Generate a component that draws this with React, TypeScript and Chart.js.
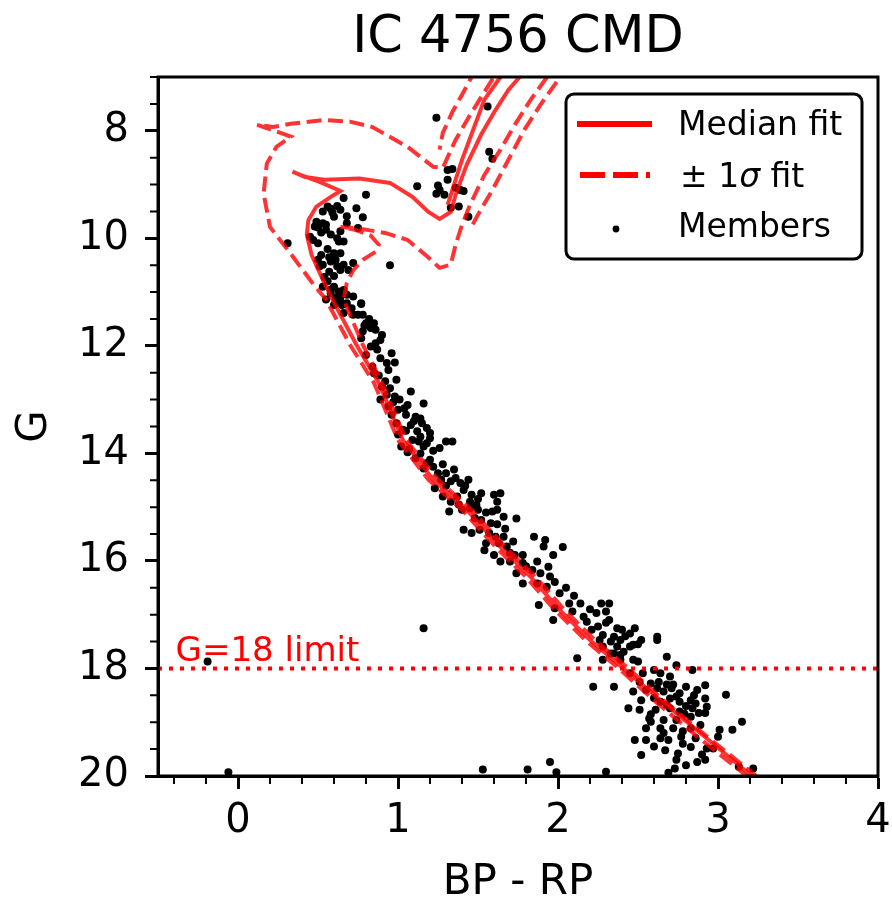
import React, { useEffect, useRef } from "react";
import { Chart, registerables } from "chart.js";

Chart.register(...registerables);

const FAMILY = "'DejaVu Sans', 'Liberation Sans', sans-serif";

// ---- text ----
const titleText = "IC 4756 CMD";
const xAxisTitle = "BP - RP";
const yAxisTitle = "G";
const limitLabel = "G=18 limit";
const limitLabelAt = [-0.39, 17.86];

// ---- axes ----
const xMajorTicks = [0, 1, 2, 3, 4];
const xMinorTicks = [-0.4, -0.2, 0.2, 0.4, 0.6, 0.8, 1.2, 1.4, 1.6, 1.8, 2.2, 2.4, 2.6, 2.8, 3.2, 3.4, 3.6, 3.8];
const yMajorTicks = [8, 10, 12, 14, 16, 18, 20];
const yMinorTicks = [7, 7.5, 8.5, 9, 9.5, 10.5, 11, 11.5, 12.5, 13, 13.5, 14.5, 15, 15.5, 16.5, 17, 17.5, 18.5, 19, 19.5];

// ---- isochrone fits (BP-RP, G) ----
const medianBP = [3.33, 3.21, 2.89, 2.64, 2.41, 2.2, 2.01, 1.83, 1.64, 1.43, 1.22, 1.03, 0.88, 0.74, 0.59, 0.53, 0.46, 0.43, 0.44, 0.49, 0.58, 0.64, 0.51, 0.39, 0.34, 0.42, 0.54, 0.76, 0.95, 1.09, 1.19, 1.26, 1.33, 1.36, 1.43, 1.52, 1.61, 1.69, 1.76, 1.86, 1.73, 1.64, 1.54, 1.47, 1.4, 1.34, 1.31];
const medianG = [20.26, 20.0, 19.2, 18.59, 18.0, 17.47, 16.91, 16.3, 15.74, 15.05, 14.49, 13.75, 12.69, 11.98, 11.14, 10.77, 10.31, 9.93, 9.66, 9.41, 9.23, 9.12, 8.95, 8.82, 8.76, 8.86, 8.91, 8.89, 8.97, 9.23, 9.51, 9.64, 9.51, 9.19, 8.63, 8.07, 7.61, 7.24, 7.0, 6.62, 6.59, 7.0, 7.42, 7.98, 8.54, 9.1, 9.38];

const upperBP = [3.3, 3.18, 2.86, 2.61, 2.38, 2.17, 1.98, 1.8, 1.61, 1.4, 1.19, 1.0, 0.85, 0.7, 0.55, 0.47, 0.33, 0.2, 0.16, 0.18, 0.24, 0.33, 0.21, 0.12, 0.22, 0.33, 0.53, 0.7, 0.84, 1.06, 1.22, 1.28, 1.36, 1.44, 1.51, 1.58, 1.64, 1.54, 1.46, 1.4, 1.34, 1.28, 1.26];
const upperG = [20.26, 20.0, 19.24, 18.62, 18.0, 17.47, 16.91, 16.3, 15.74, 15.05, 14.49, 13.75, 12.69, 11.98, 11.14, 10.85, 10.29, 9.79, 9.17, 8.61, 8.3, 8.11, 7.98, 7.89, 7.93, 7.87, 7.8, 7.83, 7.93, 8.3, 8.67, 8.69, 8.17, 7.76, 7.42, 7.09, 6.81, 6.59, 7.0, 7.33, 7.65, 8.04, 8.35];

const lowerBP = [3.36, 3.24, 2.92, 2.67, 2.44, 2.23, 2.04, 1.86, 1.67, 1.46, 1.25, 1.05, 0.9, 0.78, 0.66, 0.68, 0.72, 0.78, 0.86, 0.88, 0.83, 0.73, 0.64, 0.76, 0.92, 1.06, 1.18, 1.26, 1.33, 1.36, 1.4, 1.45, 1.54, 1.64, 1.73, 1.83, 1.92, 2.01, 2.11, 1.98, 1.89, 1.79, 1.69, 1.59, 1.5, 1.45];
const lowerG = [20.26, 20.0, 19.24, 18.62, 18.0, 17.47, 16.91, 16.3, 15.74, 15.05, 14.49, 13.75, 12.69, 11.98, 11.14, 10.83, 10.59, 10.4, 10.25, 10.12, 9.95, 9.84, 9.79, 9.82, 9.9, 10.03, 10.33, 10.55, 10.49, 10.12, 9.75, 9.38, 8.82, 8.35, 7.89, 7.42, 7.05, 6.68, 6.59, 7.14, 7.52, 7.98, 8.54, 9.1, 9.56, 9.84];

const limitBP = [-0.5, 4];
const limitG = [18, 18];

// ---- cluster members [BP-RP, G] ----
const membersGiants = [
  [1.24, 7.76], [1.56, 7.55], [1.57, 8.39], [1.59, 8.52], [1.12, 9.03], [1.31, 8.73], [1.34, 8.71],
  [1.31, 8.91], [1.25, 9.02], [1.26, 9.1], [1.24, 9.17], [1.29, 9.19], [1.36, 9.06], [1.39, 9.1],
  [1.41, 9.12], [1.33, 9.43], [1.38, 9.41], [1.44, 9.6], [0.31, 10.09], [0.95, 10.5],
];
const membersTurnoff = [
  [0.66, 9.25], [0.8, 9.19], [0.74, 9.44], [0.78, 9.61], [0.56, 9.41], [0.62, 9.4], [0.59, 9.52],
  [0.64, 9.47], [0.53, 9.5], [0.68, 9.59], [0.49, 9.69], [0.53, 9.72], [0.55, 9.84], [0.52, 9.89],
  [0.48, 9.78], [0.64, 9.87], [0.58, 9.93], [0.75, 9.81], [0.68, 9.72], [0.45, 9.97], [0.47, 10.03],
  [0.5, 10.09], [0.63, 10.06], [0.66, 10.06], [0.56, 10.2], [0.6, 10.28], [0.64, 10.28], [0.52, 10.31],
  [0.5, 10.4], [0.53, 10.49], [0.58, 10.43], [0.62, 10.52], [0.66, 10.49], [0.69, 10.59], [0.72, 10.46],
  [0.64, 10.59], [0.51, 10.52], [0.54, 10.72], [0.56, 10.8], [0.53, 10.9], [0.6, 10.9], [0.63, 10.99],
  [0.66, 10.96], [0.58, 11.02], [0.61, 11.11], [0.64, 11.08], [0.68, 11.05], [0.55, 11.14], [0.72, 11.08],
  [0.77, 11.21], [0.6, 11.24], [0.65, 11.24], [0.58, 9.45], [0.6, 9.6], [0.5, 9.8], [0.55, 9.75],
  [0.62, 10.0], [0.57, 10.35], [0.61, 10.4], [0.58, 10.95], [0.63, 11.15], [0.57, 10.62], [0.6, 10.7],
];
const membersUpperMS = [
  [0.64, 11.18], [0.68, 11.21], [0.77, 11.22], [0.71, 11.3], [0.72, 11.42], [0.75, 11.42], [0.78, 11.42],
  [0.66, 11.39], [0.8, 11.58], [0.85, 11.58], [0.83, 11.67], [0.86, 11.7], [0.78, 11.73], [0.9, 11.8],
  [0.77, 11.86], [0.89, 11.89], [0.86, 11.95], [0.83, 12.01], [0.87, 12.07], [0.8, 12.17], [0.96, 12.14],
  [0.89, 12.23], [0.93, 12.32], [0.98, 12.31], [0.84, 12.39], [0.85, 12.51], [0.92, 12.66], [0.99, 12.63],
  [0.9, 12.76], [0.95, 12.79], [1.08, 12.85], [0.93, 12.91], [0.98, 12.94], [0.89, 13.0], [1.01, 13.0],
  [1.16, 13.07], [0.94, 13.13], [1.0, 13.19], [1.04, 13.16], [0.96, 13.28], [1.05, 13.28], [1.11, 13.32],
  [1.14, 13.35], [0.99, 13.44], [1.08, 13.47], [1.15, 13.44], [1.18, 13.53], [1.03, 13.56], [1.12, 13.59],
  [1.2, 13.62], [1.0, 13.65], [1.14, 13.69], [1.09, 13.75], [1.18, 13.81], [1.02, 13.87], [1.3, 13.78],
  [1.34, 13.78], [1.16, 13.87], [1.26, 13.9], [0.97, 13.05], [1.06, 13.1], [1.1, 13.4], [1.05, 13.58],
  [1.13, 13.78], [1.2, 13.72], [1.07, 13.92], [1.22, 13.95], [0.82, 11.5], [0.79, 11.62], [0.94, 12.45],
  [0.88, 12.55],
];
const membersMidMS = [
  [1.11, 14.09], [1.2, 14.12], [1.22, 14.25], [1.16, 14.28], [1.25, 14.37], [1.3, 14.37], [1.36, 14.46],
  [1.27, 14.49], [1.33, 14.52], [1.39, 14.55], [1.44, 14.49], [1.41, 14.68], [1.46, 14.77], [1.37, 14.8],
  [1.52, 14.74], [1.6, 14.77], [1.64, 14.74], [1.23, 14.65], [1.28, 14.8], [1.33, 14.9], [1.45, 14.9],
  [1.49, 14.96], [1.62, 14.9], [1.45, 15.02], [1.4, 15.05], [1.5, 15.05], [1.32, 15.08], [1.59, 15.08],
  [1.62, 15.05], [1.66, 15.18], [1.74, 15.21], [1.52, 15.24], [1.58, 15.3], [1.41, 15.42], [1.46, 15.48],
  [1.51, 15.42], [1.57, 15.48], [1.61, 15.55], [1.66, 15.55], [1.72, 15.64], [1.85, 15.55], [1.92, 15.61],
  [1.55, 15.67], [1.63, 15.67], [1.68, 15.73], [1.91, 15.73], [1.54, 15.8], [1.6, 15.89], [1.73, 15.89],
  [1.78, 15.89], [1.97, 15.89], [1.64, 16.01], [1.7, 16.01], [1.78, 16.04], [1.87, 16.01], [1.94, 16.11],
  [1.84, 16.17], [1.89, 16.23], [1.95, 16.29], [1.74, 16.23], [2.03, 15.74], [1.06, 13.98], [1.14, 14.0],
  [1.18, 14.18], [1.28, 14.2], [1.35, 14.3], [1.3, 14.6], [1.42, 14.6], [1.38, 14.95], [1.5, 14.85],
  [1.55, 15.1], [1.48, 15.2], [1.62, 15.32], [1.67, 15.4], [1.7, 15.85], [1.8, 16.1],
];
const membersLowerMS = [
  [1.98, 16.39], [1.87, 16.42], [1.78, 16.42], [1.93, 16.48], [2.01, 16.6], [1.88, 16.82], [1.98, 16.88],
  [2.07, 16.79], [2.14, 16.79], [2.27, 16.79], [2.32, 16.79], [2.09, 16.94], [2.24, 16.97], [2.3, 16.94],
  [1.97, 17.1], [2.16, 17.04], [2.18, 17.13], [2.32, 17.1], [2.25, 17.22], [2.21, 17.28], [2.37, 17.25],
  [2.4, 17.28], [2.48, 17.25], [2.28, 17.38], [2.35, 17.41], [2.45, 17.35], [2.26, 17.47], [2.33, 17.5],
  [2.39, 17.47], [2.52, 17.47], [2.62, 17.41], [2.28, 17.59], [2.37, 17.59], [2.45, 17.59], [2.41, 17.69],
  [2.12, 17.81], [2.33, 17.72], [2.39, 17.84], [2.68, 17.78], [2.05, 16.5], [2.1, 16.65], [2.2, 16.9],
  [2.3, 17.15], [2.42, 17.4], [2.5, 17.55],
];
const membersFaint = [
  [2.47, 17.56], [2.62, 17.47], [2.35, 17.72], [2.39, 17.75], [2.28, 17.84], [2.47, 17.84], [2.5, 17.87],
  [2.74, 17.94], [2.84, 18.03], [2.22, 18.34], [2.35, 18.34], [2.45, 18.09], [2.53, 18.09], [2.6, 18.03],
  [2.64, 18.09], [2.7, 18.15], [2.51, 18.25], [2.58, 18.28], [2.63, 18.25], [2.55, 18.4], [2.62, 18.37],
  [2.47, 18.43], [2.66, 18.43], [2.71, 18.37], [2.76, 18.46], [2.8, 18.34], [2.87, 18.4], [2.92, 18.31],
  [3.05, 18.49], [2.52, 18.59], [2.64, 18.62], [2.7, 18.56], [2.76, 18.62], [2.83, 18.59], [2.86, 18.65],
  [2.92, 18.56], [2.44, 18.74], [2.51, 18.77], [2.61, 18.77], [2.7, 18.74], [2.76, 18.8], [2.84, 18.74],
  [2.93, 18.71], [2.92, 18.83], [2.57, 18.93], [2.58, 18.99], [2.66, 18.96], [2.74, 18.96], [2.83, 18.9],
  [2.88, 18.83], [2.89, 19.05], [3.15, 18.99], [2.55, 19.11], [2.64, 19.11], [2.72, 19.11], [2.78, 19.17],
  [2.83, 19.11], [3.01, 19.14], [3.09, 19.14], [2.48, 19.33], [2.55, 19.33], [2.64, 19.3], [2.69, 19.33],
  [2.77, 19.27], [2.86, 19.3], [3.0, 19.27], [2.52, 19.61], [2.67, 19.52], [2.75, 19.58], [2.83, 19.46],
  [2.93, 19.49], [2.97, 19.49], [2.8, 19.8], [2.87, 19.74], [2.92, 19.7], [2.73, 19.86], [2.3, 19.92],
  [2.69, 19.94], [3.13, 19.83], [3.22, 19.86], [2.68, 18.3], [2.74, 18.52], [2.8, 18.7], [2.68, 18.68],
  [2.79, 18.84], [2.72, 18.3], [2.6, 18.55], [2.85, 18.5], [2.58, 18.85], [2.66, 19.2], [2.6, 19.45],
  [2.78, 19.4], [2.9, 19.6], [2.74, 19.7],
];
const membersField = [
  [-0.06, 19.93], [-0.19, 17.87], [1.16, 17.25], [1.53, 19.88], [1.81, 19.88], [1.99, 19.93], [1.95, 19.74],
];

// ---- styling ----
const FIT_RED = "rgba(255, 0, 0, 0.8)";
const LEGEND_BOX = { x: 566, y: 94, w: 296, h: 165, r: 8 };

const toPts = (xs: number[], ys: number[]) => xs.map((x, i) => ({ x, y: ys[i] }));

const decor = {
  id: "decor",
  afterDatasetsDraw(chart: any) {
    const { ctx, scales } = chart;
    ctx.save();
    ctx.fillStyle = "#ff0000";
    ctx.font = `34px ${FAMILY}`;
    ctx.textAlign = "left";
    ctx.textBaseline = "alphabetic";
    ctx.fillText(limitLabel, scales.x.getPixelForValue(limitLabelAt[0]), scales.y.getPixelForValue(limitLabelAt[1]));
    ctx.restore();
  },
  afterDraw(chart: any) {
    const { ctx, chartArea: a, scales } = chart;
    ctx.save();
    ctx.setLineDash([]);
    // frame
    ctx.strokeStyle = "#000";
    ctx.lineWidth = 3;
    ctx.strokeRect(a.left, a.top, a.right - a.left, a.bottom - a.top);
    // minor ticks
    ctx.lineWidth = 2;
    ctx.beginPath();
    xMinorTicks.forEach((v) => {
      const p = scales.x.getPixelForValue(v);
      ctx.moveTo(p, a.bottom);
      ctx.lineTo(p, a.bottom + 8);
    });
    yMinorTicks.forEach((v) => {
      const p = scales.y.getPixelForValue(v);
      ctx.moveTo(a.left, p);
      ctx.lineTo(a.left - 8, p);
    });
    ctx.stroke();
    // title
    ctx.fillStyle = "#000";
    ctx.font = `51px ${FAMILY}`;
    ctx.textAlign = "center";
    ctx.textBaseline = "alphabetic";
    ctx.fillText(titleText, (a.left + a.right) / 2, 52);
    // legend
    const L = LEGEND_BOX;
    ctx.beginPath();
    ctx.roundRect(L.x, L.y, L.w, L.h, L.r);
    ctx.fillStyle = "#fff";
    ctx.fill();
    ctx.lineWidth = 3;
    ctx.strokeStyle = "#000";
    ctx.stroke();
    // handles
    ctx.strokeStyle = "#ff0000";
    ctx.lineWidth = 6;
    ctx.beginPath();
    ctx.moveTo(577, 124);
    ctx.lineTo(652, 124);
    ctx.stroke();
    ctx.setLineDash([25, 8]);
    ctx.beginPath();
    ctx.moveTo(580, 175);
    ctx.lineTo(650, 175);
    ctx.stroke();
    ctx.setLineDash([]);
    ctx.fillStyle = "#000";
    ctx.beginPath();
    ctx.arc(616, 229, 3.4, 0, Math.PI * 2);
    ctx.fill();
    // labels
    ctx.textAlign = "left";
    ctx.font = `33px ${FAMILY}`;
    ctx.fillText("Median fit", 678, 135);
    let x = 680;
    ctx.fillText("\u00b1 1", x, 187);
    x += ctx.measureText("\u00b1 1").width;
    ctx.font = `italic 33px ${FAMILY}`;
    ctx.fillText("\u03c3", x, 187);
    x += ctx.measureText("\u03c3").width;
    ctx.font = `33px ${FAMILY}`;
    ctx.fillText(" fit", x, 187);
    ctx.fillText("Members", 678, 237);
    ctx.restore();
  },
};

export default function App() {
  const ref = useRef<HTMLCanvasElement>(null);
  useEffect(() => {
    const canvas = ref.current;
    if (!canvas) return;
    Chart.defaults.font.family = FAMILY;
    const members = [
      ...membersGiants,
      ...membersTurnoff,
      ...membersUpperMS,
      ...membersMidMS,
      ...membersLowerMS,
      ...membersFaint,
      ...membersField,
    ].map(([x, y]) => ({ x, y }));

    const lineDs = (label: string, data: any[], dash: number[], order: number) => ({
      label,
      data,
      showLine: true,
      borderColor: FIT_RED,
      backgroundColor: FIT_RED,
      borderWidth: 4,
      borderDash: dash,
      pointRadius: 0,
      pointHoverRadius: 0,
      tension: 0,
      clip: 0,
      order,
    });

    const chart = new Chart(canvas, {
      type: "scatter",
      data: {
        datasets: [
          {
            label: "G=18 limit",
            data: toPts(limitBP, limitG),
            showLine: true,
            borderColor: "#ff0000",
            borderWidth: 4,
            borderDash: [4, 7],
            pointRadius: 0,
            pointHoverRadius: 0,
            clip: 0,
            order: 0,
          },
          lineDs("Median fit", toPts(medianBP, medianG), [], 1),
          lineDs("\u00b1 1\u03c3 fit", toPts(upperBP, upperG), [15, 6.5], 2),
          lineDs("\u00b1 1\u03c3 fit (faint)", toPts(lowerBP, lowerG), [15, 6.5], 2),
          {
            label: "Members",
            data: members,
            showLine: false,
            pointRadius: 4,
            pointHoverRadius: 4,
            pointBackgroundColor: "#000",
            pointBorderWidth: 0,
            borderColor: "#000",
            order: 5,
          } as any,
        ],
      },
      options: {
        animation: false,
        responsive: false,
        devicePixelRatio: 1,
        events: [],
        layout: { padding: { top: 77, right: 14, bottom: 0, left: 0 } },
        plugins: {
          legend: { display: false },
          tooltip: { enabled: false },
          title: { display: false },
        },
        scales: {
          x: {
            type: "linear",
            position: "bottom",
            min: -0.5,
            max: 4,
            afterBuildTicks: (s: any) => {
              s.ticks = xMajorTicks.map((v) => ({ value: v }));
            },
            afterFit: (s: any) => {
              s.height = 128;
              s.paddingLeft = 0;
              s.paddingRight = 0;
            },
            ticks: {
              color: "#000",
              font: { size: 40, family: FAMILY },
              padding: 9,
              autoSkip: false,
              maxRotation: 0,
              callback: (v: any) => String(v),
            },
            grid: { drawOnChartArea: false, drawTicks: true, tickLength: 13, tickWidth: 3, tickColor: "#000" },
            border: { display: true, color: "#000", width: 3 },
            title: {
              display: true,
              text: xAxisTitle,
              color: "#000",
              font: { size: 42, family: FAMILY, lineHeight: 1 },
              padding: { top: 0, bottom: 0 },
            },
          },
          y: {
            type: "linear",
            position: "left",
            min: 7,
            max: 20,
            reverse: true,
            afterBuildTicks: (s: any) => {
              s.ticks = yMajorTicks.map((v) => ({ value: v }));
            },
            afterFit: (s: any) => {
              s.width = 158;
              s.paddingTop = 0;
              s.paddingBottom = 0;
            },
            ticks: {
              color: "#000",
              font: { size: 40, family: FAMILY },
              padding: 16,
              autoSkip: false,
              callback: (v: any) => String(v),
            },
            grid: { drawOnChartArea: false, drawTicks: true, tickLength: 13, tickWidth: 3, tickColor: "#000" },
            border: { display: true, color: "#000", width: 3 },
            title: {
              display: true,
              text: yAxisTitle,
              color: "#000",
              font: { size: 42, family: FAMILY, lineHeight: 1 },
              padding: { top: 14, bottom: 0 },
            },
          },
        },
      } as any,
      plugins: [decor],
    });
    return () => chart.destroy();
  }, []);

  return (
    <div style={{ position: "absolute", left: 0, top: 0, width: 892, height: 904, background: "#fff" }}>
      <canvas ref={ref} width={892} height={904} style={{ display: "block", width: 892, height: 904 }} />
    </div>
  );
}
